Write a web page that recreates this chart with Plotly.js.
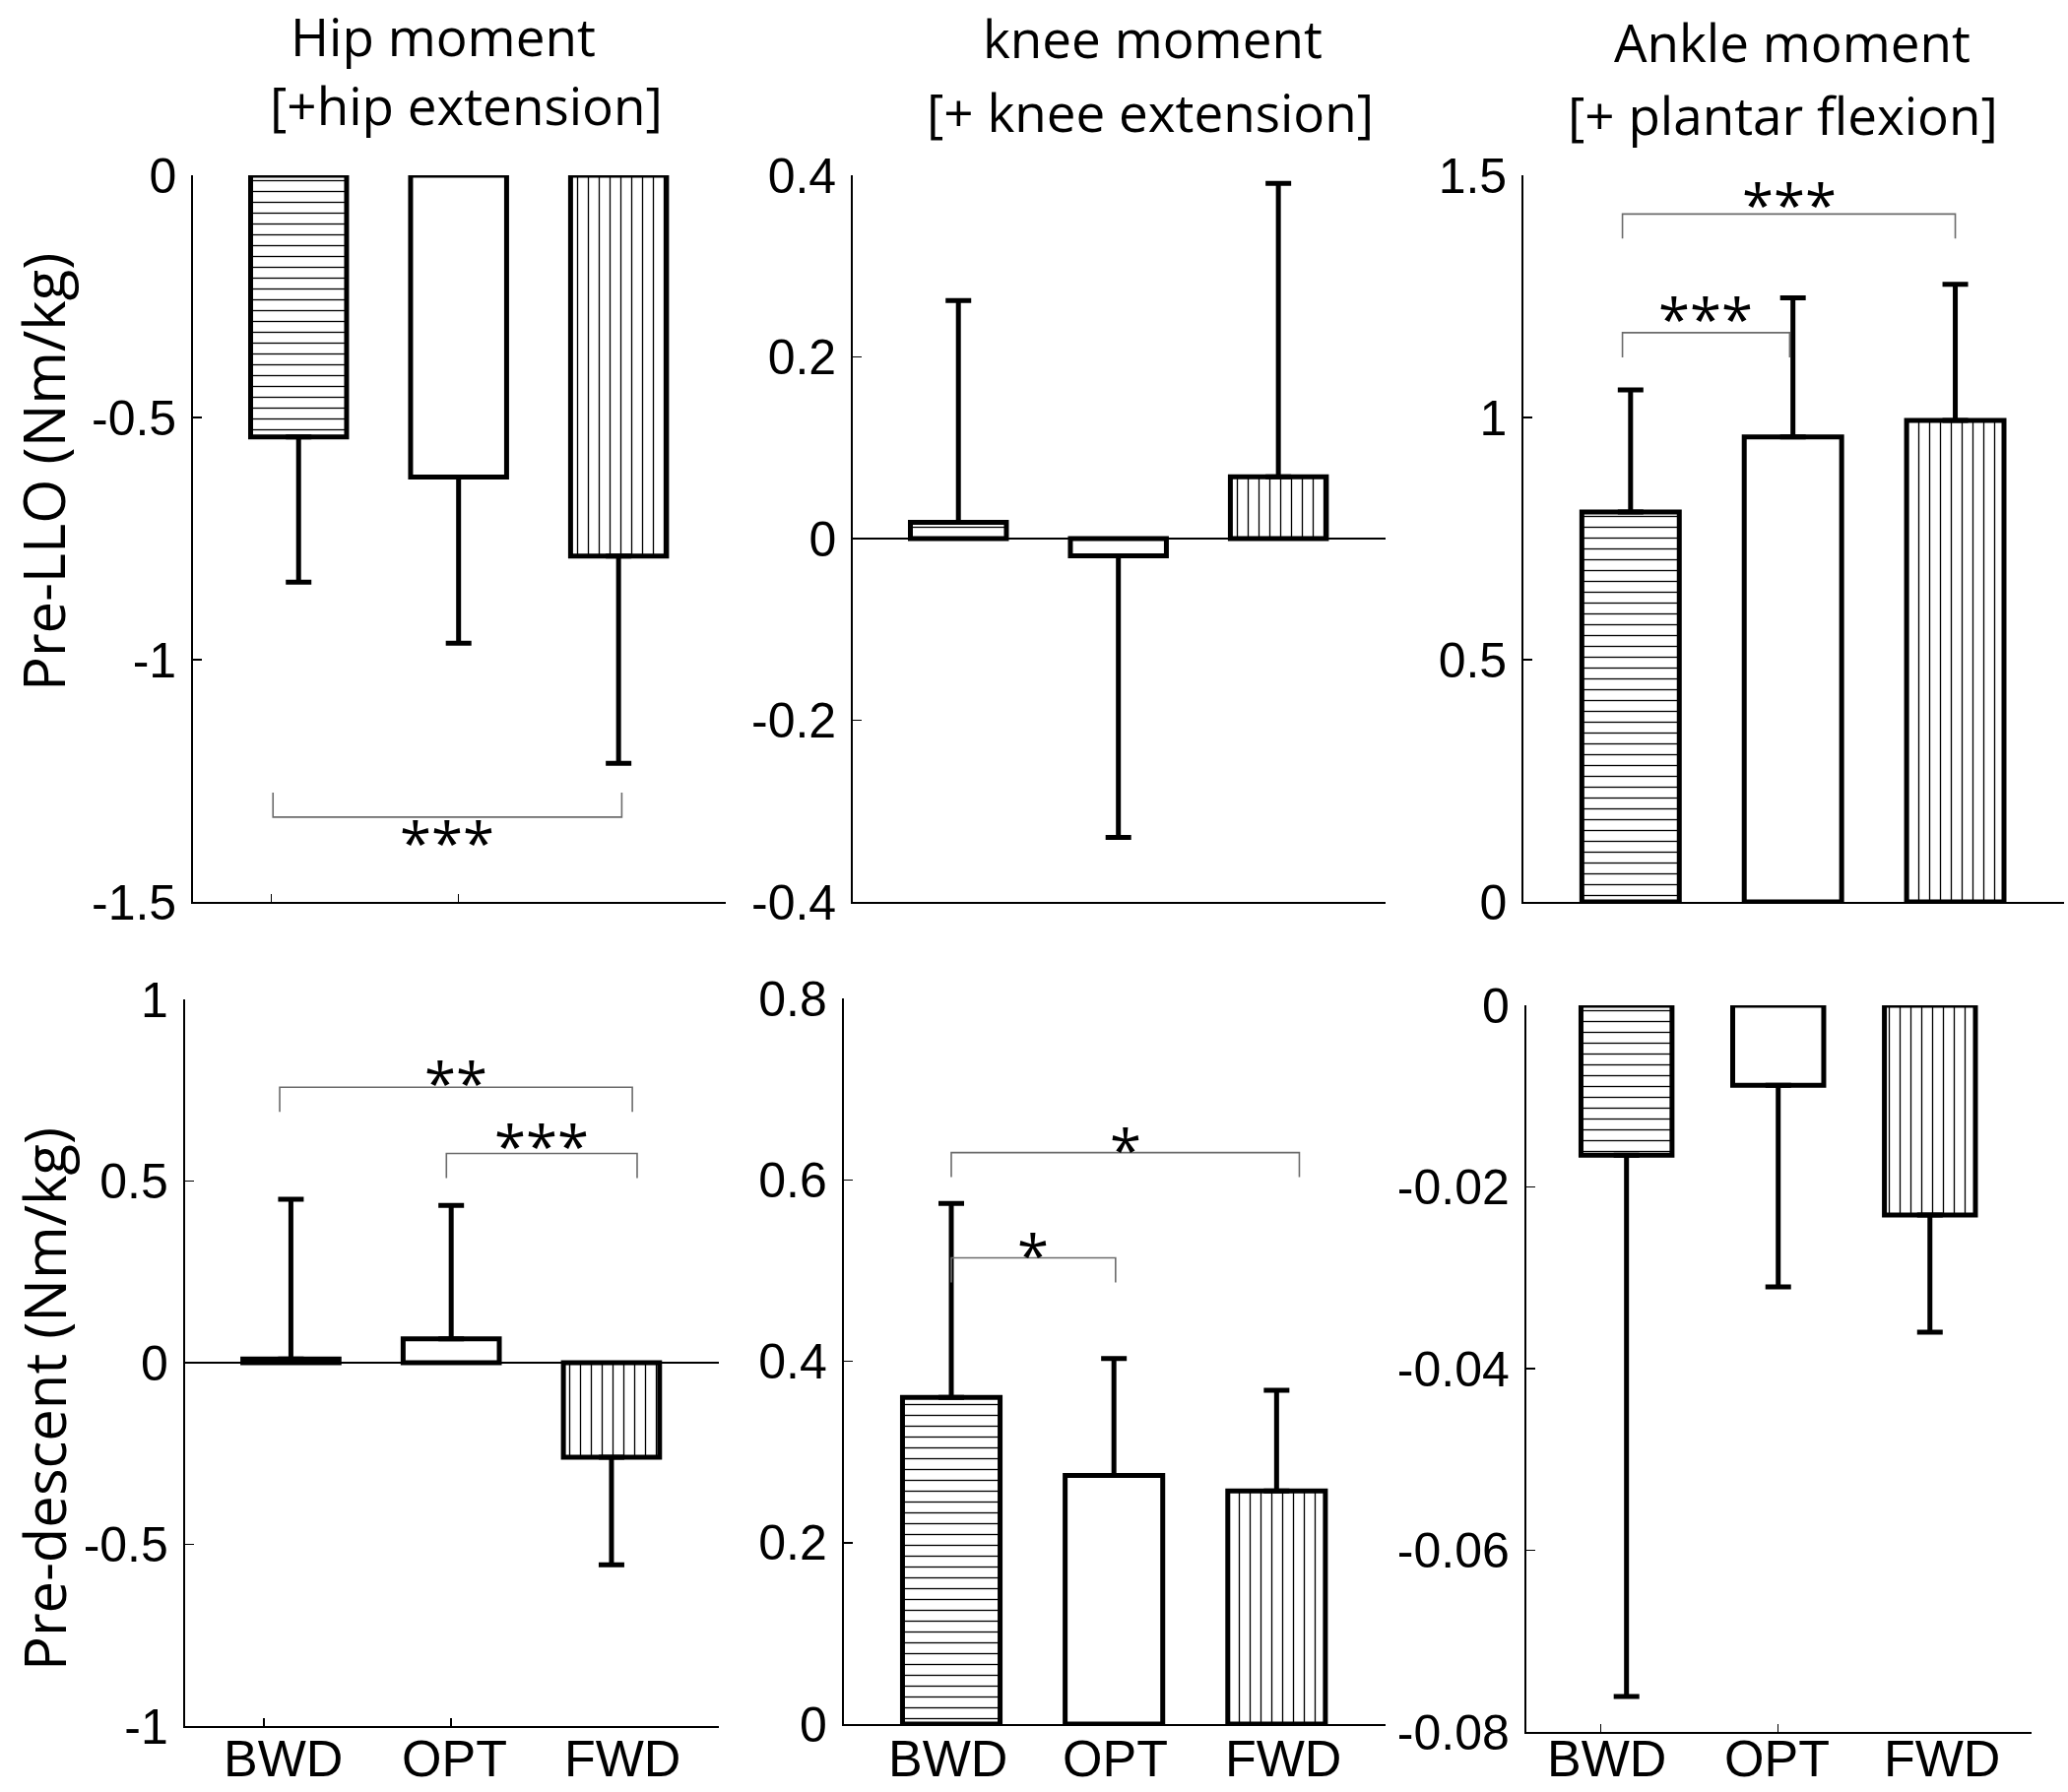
<!DOCTYPE html>
<html>
<head>
<meta charset="utf-8">
<script src="https://cdn.plot.ly/plotly-3.0.1.min.js"></script>
<style>
html, body { margin: 0; padding: 0; background: #ffffff; }
#chart { width: 2100px; height: 1820px; }
</style>
</head>
<body>
<div id="chart"></div>
<script>
// ---------------- DATA ----------------
const categories = ['BWD', 'OPT', 'FWD'];

const hipPreLLO        = [-0.540, -0.623, -0.786];
const hipPreLLOSD      = [ 0.300,  0.343,  0.428];
const kneePreLLO       = [ 0.018, -0.019,  0.068];
const kneePreLLOSD     = [ 0.244,  0.310,  0.323];
const anklePreLLO      = [ 0.805,  0.960,  0.994];
const anklePreLLOSD    = [ 0.252,  0.287,  0.281];

const hipPreDescent     = [ 0.010,  0.066, -0.260];
const hipPreDescentSD   = [ 0.440,  0.367,  0.296];
const kneePreDescent    = [ 0.360,  0.274,  0.257];
const kneePreDescentSD  = [ 0.214,  0.129,  0.111];
const anklePreDescent   = [-0.0165, -0.0088, -0.0231];
const anklePreDescentSD = [ 0.0596,  0.0222,  0.0129];

const columnTitles    = ['Hip moment', 'knee moment', 'Ankle moment'];
const columnSubtitles = ['[+hip extension]', '[+ knee extension]', '[+ plantar flexion]'];
const rowTitles       = ['Pre-LLO (Nm/kg)', 'Pre-descent (Nm/kg)'];

const yTicksHipLLO      = [0, -0.5, -1, -1.5];
const yTickTextHipLLO   = ['0', '-0.5', '-1', '-1.5'];
const yTicksKneeLLO     = [0.4, 0.2, 0, -0.2, -0.4];
const yTickTextKneeLLO  = ['0.4', '0.2', '0', '-0.2', '-0.4'];
const yTicksAnkleLLO    = [1.5, 1, 0.5, 0];
const yTickTextAnkleLLO = ['1.5', '1', '0.5', '0'];
const yTicksHipDesc     = [1, 0.5, 0, -0.5, -1];
const yTickTextHipDesc  = ['1', '0.5', '0', '-0.5', '-1'];
const yTicksKneeDesc    = [0.8, 0.6, 0.4, 0.2, 0];
const yTickTextKneeDesc = ['0.8', '0.6', '0.4', '0.2', '0'];
const yTicksAnkleDesc   = [0, -0.02, -0.04, -0.06, -0.08];
const yTickTextAnkleDesc= ['0', '-0.02', '-0.04', '-0.06', '-0.08'];

// significance comparisons: which groups, and the star label
const sigHipLLO    = [{a: 'BWD', b: 'FWD', label: '***'}];
const sigAnkleLLO  = [{a: 'BWD', b: 'FWD', label: '***'}, {a: 'BWD', b: 'OPT', label: '***'}];
const sigHipDesc   = [{a: 'BWD', b: 'FWD', label: '**'},  {a: 'OPT', b: 'FWD', label: '***'}];
const sigKneeDesc  = [{a: 'BWD', b: 'FWD', label: '*'},   {a: 'BWD', b: 'OPT', label: '*'}];

// ---------------- LAYOUT SPEC ----------------
const W = 2100, H = 1820;
const XR = [-0.66, 2.67];
const patterns = ['-', '', '|'];

// layout-only placement: panel boxes (px), bracket levels/offsets, label offsets
const panels = [
  {vals: hipPreLLO, sd: hipPreLLOSD, box: [196, 737, 178, 916], yr: [-1.5, 0],
   tv: yTicksHipLLO, tt: yTickTextHipLLO, zero: false, xticks: true, bottom: false, lw: 1.8,
   sig: sigHipLLO, br: [{y: -1.325, d0: -0.16, d1: 0.02, up: true, ys: -26}]},
  {vals: kneePreLLO, sd: kneePreLLOSD, box: [866, 1407, 178, 916], yr: [-0.4, 0.4],
   tv: yTicksKneeLLO, tt: yTickTextKneeLLO, zero: true, xticks: true, bottom: false, lw: 1.8,
   sig: [], br: []},
  {vals: anklePreLLO, sd: anklePreLLOSD, box: [1547, 2096, 178, 916], yr: [0, 1.5],
   tv: yTicksAnkleLLO, tt: yTickTextAnkleLLO, zero: false, xticks: false, bottom: false, lw: 1.8,
   sig: sigAnkleLLO, br: [{y: 1.42, d0: -0.05, d1: 0.0, up: false, ys: 10},
                          {y: 1.175, d0: -0.05, d1: -0.02, up: false, ys: 14}]},
  {vals: hipPreDescent, sd: hipPreDescentSD, box: [188, 730, 1015, 1753], yr: [-1, 1],
   tv: yTicksHipDesc, tt: yTickTextHipDesc, zero: true, xticks: true, bottom: true, lw: 2.2,
   lab: [-0.05, 1.02, 2.07],
   sig: sigHipDesc, br: [{y: 0.758, d0: -0.07, d1: 0.13, up: false, ys: 5},
                         {y: 0.576, d0: -0.03, d1: 0.16, up: false, ys: 8}]},
  {vals: kneePreDescent, sd: kneePreDescentSD, box: [857, 1407, 1014, 1751], yr: [0, 0.8],
   tv: yTicksKneeDesc, tt: yTickTextKneeDesc, zero: false, xticks: false, bottom: true, lw: 2.2,
   lab: [-0.02, 1.01, 2.04],
   sig: sigKneeDesc, br: [{y: 0.630, d0: 0.0, d1: 0.14, up: false, ys: 3},
                          {y: 0.514, d0: 0.0, d1: 0.01, up: false, ys: 3}]},
  {vals: anklePreDescent, sd: anklePreDescentSD, box: [1550, 2063, 1021, 1759], yr: [-0.08, 0],
   tv: yTicksAnkleDesc, tt: yTickTextAnkleDesc, zero: false, xticks: true, bottom: true, lw: 2.2,
   lab: [-0.13, 0.99, 2.08],
   sig: [], br: []}
];

const tickFont  = {family: 'Liberation Sans, Arial, sans-serif', size: 50, color: '#000'};
const labelFont = {family: 'Liberation Sans, Arial, sans-serif', size: 52, color: '#000'};
const titleFont = {family: 'Open Sans, sans-serif', size: 53, color: '#000'};
const starFont  = {family: 'Open Sans, sans-serif', size: 58, color: '#000'};

const data = [];
const layout = {
  width: W, height: H,
  margin: {l: 0, r: 0, t: 0, b: 0},
  paper_bgcolor: '#fff', plot_bgcolor: 'rgba(0,0,0,0)',
  showlegend: false, hovermode: false,
  shapes: [], annotations: []
};

panels.forEach((p, i) => {
  const k = i + 1;
  const xn = k === 1 ? 'x' : 'x' + k;
  const yn = k === 1 ? 'y' : 'y' + k;
  const ov = 'x' + (k + 6);
  const [x0, x1, yt, yb] = p.box;

  data.push({
    type: 'bar',
    x: categories,
    y: p.vals,
    xaxis: xn, yaxis: yn,
    width: 0.6,
    marker: {
      color: '#fff',
      line: {color: '#000', width: 5},
      pattern: {shape: patterns, size: 11, solidity: 0.12, fgcolor: '#000', bgcolor: '#fff'}
    },
    error_y: {
      type: 'data', symmetric: false, visible: true,
      array: p.vals.map((v, j) => v >= 0 ? p.sd[j] : 0),
      arrayminus: p.vals.map((v, j) => v < 0 ? p.sd[j] : 0),
      color: '#000', thickness: 5, width: 13
    },
    hoverinfo: 'skip'
  });

  const xDom = [x0 / W, x1 / W];
  const yDom = [1 - yb / H, 1 - yt / H];

  layout['xaxis' + (k === 1 ? '' : k)] = {
    domain: xDom, anchor: yn, type: 'category', categoryarray: categories,
    range: XR, ticks: '', showline: true, linecolor: '#000', linewidth: p.lw,
    showgrid: false, zeroline: false, showticklabels: false, fixedrange: true
  };
  // tick marks (placed as in the figure)
  layout['xaxis' + (k + 6)] = {
    overlaying: xn, anchor: yn, type: 'linear', range: XR, side: 'bottom',
    tickmode: 'array', tickvals: p.xticks ? [-0.17, 1] : [],
    ticks: p.xticks ? 'inside' : '', ticklen: 8, tickwidth: 1.5, tickcolor: '#000',
    showticklabels: false, showline: false, showgrid: false, zeroline: false, fixedrange: true
  };
  layout['yaxis' + (k === 1 ? '' : k)] = {
    domain: yDom, anchor: xn, range: p.yr,
    tickmode: 'array', tickvals: p.tv, ticktext: p.tt,
    ticks: 'inside', ticklen: 9, tickwidth: 1.5, tickcolor: '#000',
    showline: true, linecolor: '#000', linewidth: p.lw, showgrid: false,
    zeroline: p.zero, zerolinecolor: '#000', zerolinewidth: 1.5,
    tickfont: tickFont, ticklabelstandoff: 5, fixedrange: true
  };

  // category labels under the bottom row (placed as in the figure)
  if (p.bottom) {
    categories.forEach((c, j) => {
      layout.annotations.push({xref: ov, yref: 'paper', x: p.lab[j], y: 1 - 1786 / H,
        text: c, showarrow: false, xanchor: 'center', yanchor: 'middle', font: labelFont});
    });
  }

  // significance brackets
  const pxPerUnit = (yb - yt) / (p.yr[1] - p.yr[0]);
  const drop = 25 / pxPerUnit;
  p.sig.forEach((s, j) => {
    const b = p.br[j];
    const xa = categories.indexOf(s.a) + b.d0;
    const xb = categories.indexOf(s.b) + b.d1;
    const yv = b.y + (b.up ? drop : -drop);
    const ln = {color: '#6b6b6b', width: 1.6};
    layout.shapes.push({type: 'path', xref: ov, yref: yn, layer: 'above',
      path: `M ${xa},${yv} L ${xa},${b.y} L ${xb},${b.y} L ${xb},${yv}`, line: ln});
    layout.annotations.push({xref: ov, yref: yn, x: (xa + xb) / 2, y: b.y,
      text: s.label, showarrow: false, xanchor: 'center', yanchor: 'middle',
      yshift: b.ys, font: starFont});
  });
});

// column titles
const titleX = [[450, 474], [1170, 1168], [1820, 1810]];
const titleY = [[36, 106], [38, 113], [42, 117]];
columnTitles.forEach((t, c) => {
  layout.annotations.push({xref: 'paper', yref: 'paper', x: titleX[c][0] / W, y: 1 - titleY[c][0] / H,
    text: t, showarrow: false, xanchor: 'center', yanchor: 'middle', font: titleFont});
  layout.annotations.push({xref: 'paper', yref: 'paper', x: titleX[c][1] / W, y: 1 - titleY[c][1] / H,
    text: columnSubtitles[c], showarrow: false, xanchor: 'center', yanchor: 'middle', font: titleFont});
});

// row titles
const rowPos = [[44, 480], [44, 1421]];
rowTitles.forEach((t, r) => {
  layout.annotations.push({xref: 'paper', yref: 'paper', x: rowPos[r][0] / W, y: 1 - rowPos[r][1] / H,
    text: t, showarrow: false, xanchor: 'center', yanchor: 'middle', textangle: -90,
    font: {family: 'Open Sans, sans-serif', size: 58, color: '#000'}});
});

Plotly.newPlot('chart', data, layout, {displayModeBar: false, staticPlot: true});
</script>
</body>
</html>
